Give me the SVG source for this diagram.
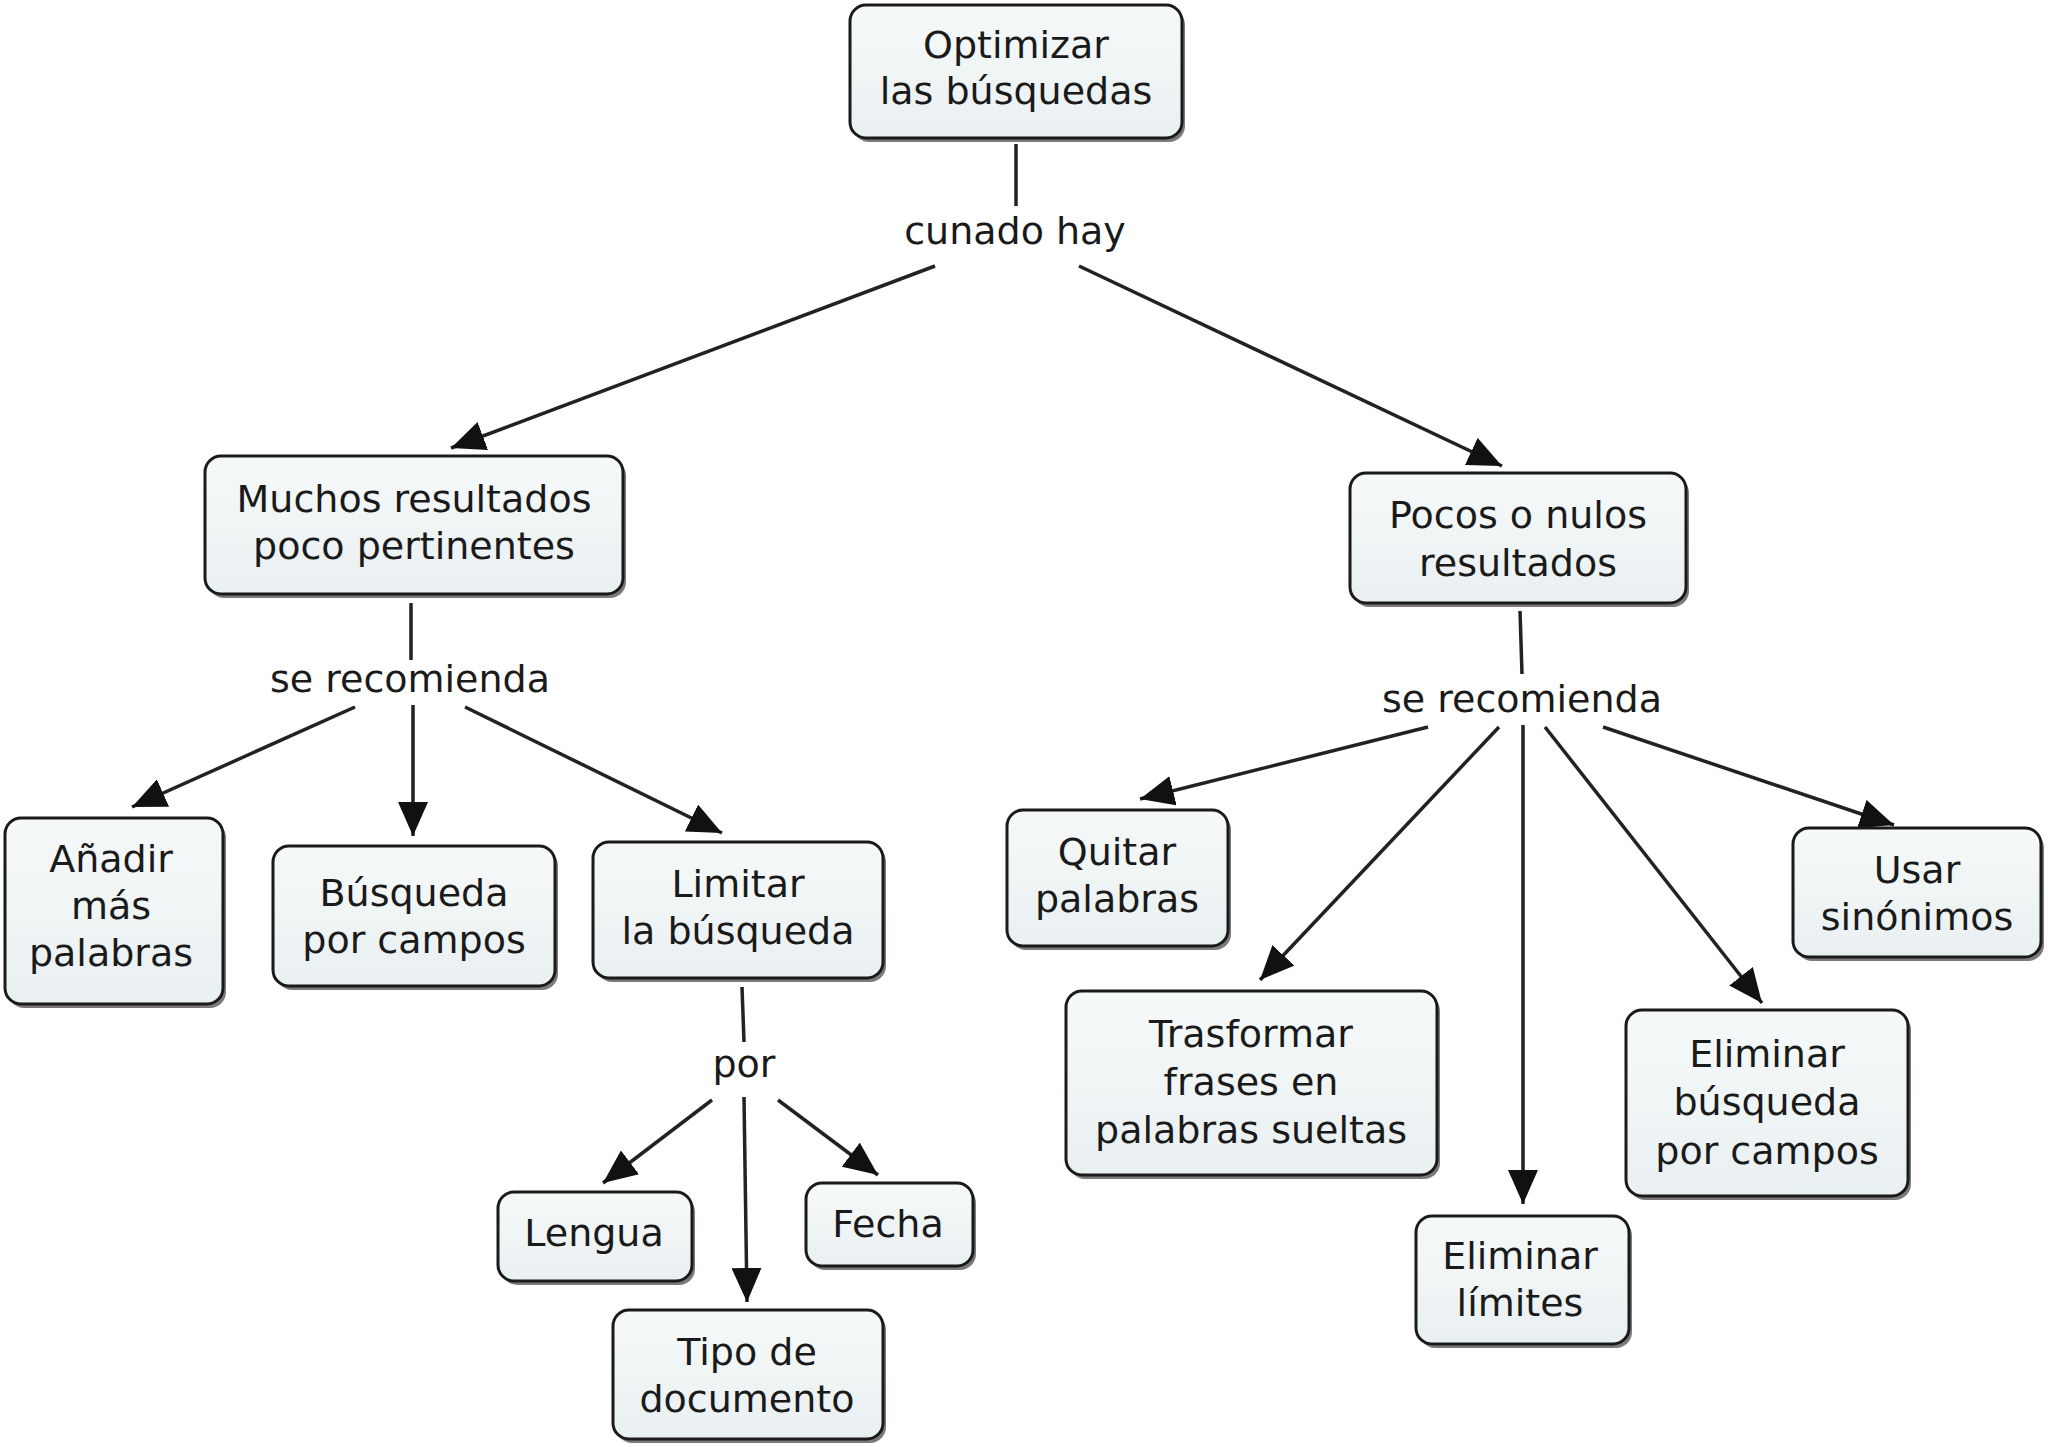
<svg xmlns="http://www.w3.org/2000/svg" width="2048" height="1447" viewBox="0 0 2048 1447">
<style>
.box{fill:url(#g);stroke:#1a1a1a;stroke-width:3}
.sh{fill:#7a7a7a}
.t{font-family:"DejaVu Sans","Verdana",sans-serif;font-size:38px;fill:#1a1a1a;text-anchor:middle}
.c{stroke:#222;stroke-width:3.5;fill:none;marker-end:url(#ah)}
.p{stroke:#222;stroke-width:3.5;fill:none}
</style>
<defs>
<linearGradient id="g" x1="0" y1="0" x2="0" y2="1">
<stop offset="0" stop-color="#f6f9fa"/>
<stop offset="1" stop-color="#e9f0f1"/>
</linearGradient>
<marker id="ah" viewBox="0 0 34 30" refX="34" refY="15" markerWidth="34" markerHeight="30" markerUnits="userSpaceOnUse" orient="auto">
<path d="M0,0 L34,15 L0,30 z" fill="#111"/>
</marker>
</defs>
<rect width="2048" height="1447" fill="#fff"/>
<g id="connectors">
<line class="p" x1="1016" y1="144" x2="1016" y2="206"/>
<line class="c" x1="935" y1="266" x2="451" y2="448"/>
<line class="c" x1="1079" y1="266" x2="1502" y2="466"/>
<line class="p" x1="411" y1="603" x2="411" y2="660"/>
<line class="c" x1="355" y1="707" x2="132" y2="807"/>
<line class="c" x1="413" y1="705" x2="413" y2="836"/>
<line class="c" x1="465" y1="707" x2="722" y2="833"/>
<line class="p" x1="742" y1="987" x2="744" y2="1042"/>
<line class="c" x1="712" y1="1100" x2="603" y2="1183"/>
<line class="c" x1="744" y1="1097" x2="747" y2="1302"/>
<line class="c" x1="778" y1="1100" x2="878" y2="1175"/>
<line class="p" x1="1520" y1="611" x2="1522" y2="674"/>
<line class="c" x1="1428" y1="727" x2="1140" y2="799"/>
<line class="c" x1="1499" y1="727" x2="1260" y2="980"/>
<line class="c" x1="1523" y1="725" x2="1523" y2="1204"/>
<line class="c" x1="1545" y1="727" x2="1762" y2="1003"/>
<line class="c" x1="1603" y1="727" x2="1894" y2="825"/>
<text class="t" x="1015" y="244">cunado hay</text>
<text class="t" x="410" y="692">se recomienda</text>
<text class="t" x="744" y="1077">por</text>
<text class="t" x="1522" y="712">se recomienda</text>
</g>
<g id="n-optimizar">
<rect class="sh" x="853" y="9" width="332" height="133" rx="16"/>
<rect class="box" x="850" y="5" width="332" height="133" rx="16"/>
<text class="t" x="1016" y="58">Optimizar</text>
<text class="t" x="1016" y="104">las búsquedas</text>
</g>
<g id="n-muchos">
<rect class="sh" x="208" y="460" width="418" height="138" rx="16"/>
<rect class="box" x="205" y="456" width="418" height="138" rx="16"/>
<text class="t" x="414" y="512">Muchos resultados</text>
<text class="t" x="414" y="559">poco pertinentes</text>
</g>
<g id="n-pocos">
<rect class="sh" x="1353" y="477" width="336" height="130" rx="16"/>
<rect class="box" x="1350" y="473" width="336" height="130" rx="16"/>
<text class="t" x="1518" y="528">Pocos o nulos</text>
<text class="t" x="1518" y="576">resultados</text>
</g>
<g id="n-anadir">
<rect class="sh" x="8" y="822" width="218" height="186" rx="16"/>
<rect class="box" x="5" y="818" width="218" height="186" rx="16"/>
<text class="t" x="111" y="872">Añadir</text>
<text class="t" x="111" y="919">más</text>
<text class="t" x="111" y="966">palabras</text>
</g>
<g id="n-busqueda">
<rect class="sh" x="276" y="850" width="282" height="140" rx="16"/>
<rect class="box" x="273" y="846" width="282" height="140" rx="16"/>
<text class="t" x="414" y="906">Búsqueda</text>
<text class="t" x="414" y="953">por campos</text>
</g>
<g id="n-limitar">
<rect class="sh" x="596" y="846" width="290" height="136" rx="16"/>
<rect class="box" x="593" y="842" width="290" height="136" rx="16"/>
<text class="t" x="738" y="897">Limitar</text>
<text class="t" x="738" y="944">la búsqueda</text>
</g>
<g id="n-lengua">
<rect class="sh" x="501" y="1196" width="194" height="89" rx="16"/>
<rect class="box" x="498" y="1192" width="194" height="89" rx="16"/>
<text class="t" x="594" y="1246">Lengua</text>
</g>
<g id="n-fecha">
<rect class="sh" x="809" y="1187" width="167" height="83" rx="16"/>
<rect class="box" x="806" y="1183" width="167" height="83" rx="16"/>
<text class="t" x="888" y="1237">Fecha</text>
</g>
<g id="n-tipo">
<rect class="sh" x="616" y="1314" width="270" height="129" rx="16"/>
<rect class="box" x="613" y="1310" width="270" height="129" rx="16"/>
<text class="t" x="747" y="1365">Tipo de</text>
<text class="t" x="747" y="1412">documento</text>
</g>
<g id="n-quitar">
<rect class="sh" x="1010" y="814" width="221" height="136" rx="16"/>
<rect class="box" x="1007" y="810" width="221" height="136" rx="16"/>
<text class="t" x="1117" y="865">Quitar</text>
<text class="t" x="1117" y="912">palabras</text>
</g>
<g id="n-usar">
<rect class="sh" x="1796" y="832" width="248" height="129" rx="16"/>
<rect class="box" x="1793" y="828" width="248" height="129" rx="16"/>
<text class="t" x="1917" y="883">Usar</text>
<text class="t" x="1917" y="930">sinónimos</text>
</g>
<g id="n-trasformar">
<rect class="sh" x="1069" y="995" width="371" height="184" rx="16"/>
<rect class="box" x="1066" y="991" width="371" height="184" rx="16"/>
<text class="t" x="1251" y="1047">Trasformar</text>
<text class="t" x="1251" y="1095">frases en</text>
<text class="t" x="1251" y="1143">palabras sueltas</text>
</g>
<g id="n-elimbusq">
<rect class="sh" x="1629" y="1014" width="282" height="186" rx="16"/>
<rect class="box" x="1626" y="1010" width="282" height="186" rx="16"/>
<text class="t" x="1767" y="1067">Eliminar</text>
<text class="t" x="1767" y="1115">búsqueda</text>
<text class="t" x="1767" y="1164">por campos</text>
</g>
<g id="n-elimlim">
<rect class="sh" x="1419" y="1220" width="213" height="128" rx="16"/>
<rect class="box" x="1416" y="1216" width="213" height="128" rx="16"/>
<text class="t" x="1520" y="1269">Eliminar</text>
<text class="t" x="1520" y="1316">límites</text>
</g>
</svg>
